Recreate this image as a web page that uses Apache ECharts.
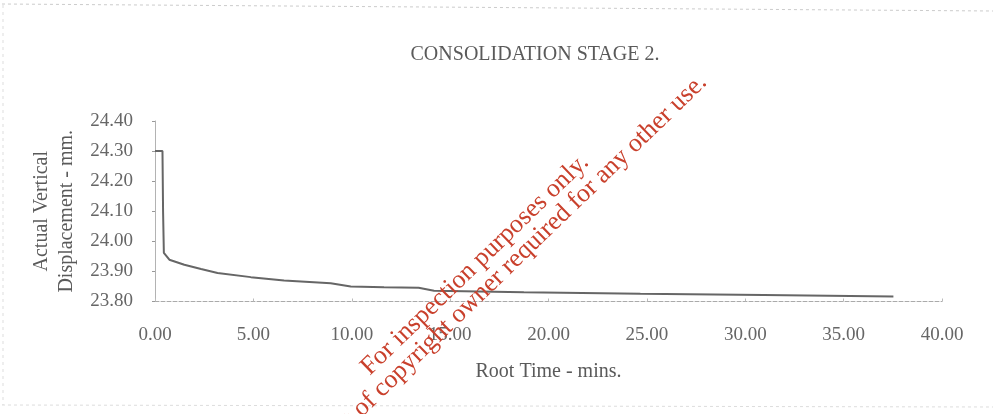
<!DOCTYPE html>
<html>
<head>
<meta charset="utf-8">
<script src="https://cdn.jsdelivr.net/npm/echarts@6/dist/echarts.min.js"></script>
<style>
html,body{margin:0;padding:0;background:#fff;}
#chart{width:995px;height:414px;}
</style>
</head>
<body>
<div id="chart"></div>
<script>
// Data
const rootTime = [0, 0.38, 0.41, 0.45, 0.73, 1.49, 2.34, 3.18, 4.87, 6.56, 8.93, 9.95, 11.64, 13.4, 14.18, 18.75, 24.67, 30.93, 37.53];
const displacement = [24.30, 24.30, 24.10, 23.962, 23.939, 23.922, 23.908, 23.895, 23.881, 23.870, 23.861, 23.850, 23.847, 23.846, 23.836, 23.831, 23.826, 23.822, 23.817];
const titleText = 'CONSOLIDATION STAGE 2.';
const xName = 'Root Time - mins.';
const yName = 'Actual Vertical\nDisplacement - mm.';
const watermark1 = 'For inspection purposes only.';
const watermark2 = 'Consent of copyright owner required for any other use.';

const serif = '"Liberation Serif", "DejaVu Serif", serif';
const txtColor = '#5a5a5a';
const chart = echarts.init(document.getElementById('chart'));
const rot = 44 * Math.PI / 180;

chart.setOption({
  animation: false,
  backgroundColor: '#fff',
  title: {
    text: titleText,
    left: 530,
    top: 40,
    textAlign: 'center',
    textStyle: { fontFamily: serif, fontSize: 20, fontWeight: 'normal', color: txtColor }
  },
  grid: { left: 155, right: 53, top: 121, bottom: 112.5, containLabel: false },
  xAxis: {
    type: 'value',
    min: 0, max: 40, interval: 5,
    name: xName,
    nameLocation: 'middle',
    nameGap: 60,
    nameTextStyle: { fontFamily: serif, fontSize: 20, color: txtColor },
    axisLine: { show: true, lineStyle: { color: '#aaa', type: 'dashed', width: 1 } },
    axisTick: { show: true, inside: true, length: 3, lineStyle: { color: '#bbb' } },
    axisLabel: { formatter: v => v.toFixed(2), fontFamily: serif, fontSize: 19, color: '#666', margin: 24 },
    splitLine: { show: false }
  },
  yAxis: {
    type: 'value',
    min: 23.8, max: 24.4, interval: 0.1,
    name: yName,
    nameLocation: 'middle',
    nameRotate: 90,
    nameGap: 73,
    nameTextStyle: { fontFamily: serif, fontSize: 20, color: txtColor, lineHeight: 25 },
    axisLine: { show: true, lineStyle: { color: '#aaa', type: 'dotted', width: 1 } },
    axisTick: { show: true, length: 3, lineStyle: { color: '#999' } },
    axisLabel: { formatter: v => v.toFixed(2), fontFamily: serif, fontSize: 19, color: '#666', margin: 22 },
    splitLine: { show: false }
  },
  series: [{
    type: 'line',
    data: rootTime.map((x, i) => [x, displacement[i]]),
    showSymbol: false,
    smooth: false,
    lineStyle: { color: '#666', width: 2 }
  }],
  graphic: [
    { type: 'line', shape: { x1: 2, y1: 4, x2: 993, y2: 11 }, style: { stroke: '#ccc', lineDash: [3, 3], lineWidth: 1 }, silent: true },
    { type: 'line', shape: { x1: 3, y1: 5, x2: 3, y2: 405 }, style: { stroke: '#ddd', lineDash: [3, 4], lineWidth: 1 }, silent: true },
    { type: 'line', shape: { x1: 2, y1: 405, x2: 993, y2: 407 }, style: { stroke: '#ddd', lineDash: [3, 3], lineWidth: 1 }, silent: true },
    {
      type: 'text', x: 594, y: 168, rotation: rot, z: 100, silent: true,
      style: { text: watermark1, fill: '#c9402c', font: '26px ' + serif, align: 'right', verticalAlign: 'bottom' }
    },
    {
      type: 'text', x: 712, y: 88, rotation: rot, z: 100, silent: true,
      style: { text: watermark2, fill: '#c9402c', font: '26px ' + serif, align: 'right', verticalAlign: 'bottom' }
    }
  ]
});
</script>
</body>
</html>
